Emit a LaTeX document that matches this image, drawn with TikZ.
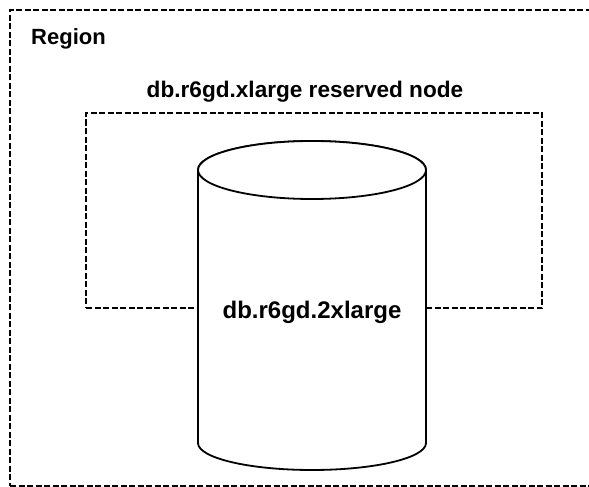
\documentclass[tikz,border=0pt]{standalone}
\usepackage{fontspec}
\setmainfont{Liberation Sans}
\usetikzlibrary{shapes.geometric, positioning}

\begin{document}
\begin{tikzpicture}[x=1pt, y=-1pt, boxstyle/.style = {rectangle, draw, dash pattern=on 6pt off 2.5pt, line width=1.4pt, inner sep=0pt}, dbstyle/.style = {draw, fill=white, line width=1.8pt}, labelstyle/.style={font=\fontsize{22.6}{27}\selectfont\bfseries, inner sep=0pt}]
  \useasboundingbox (0,0) rectangle (589,487);

  % Region
  \node[boxstyle, minimum width=584pt, minimum height=476pt] (region) at (302,248) {};
  \node[labelstyle, font=\fontsize{22}{26}\selectfont\bfseries, anchor=base west] (regionlabel) at (31,45) {Region};

  % reserved node
  \node[boxstyle, minimum width=456pt, minimum height=195pt] (reserved) at (314,210.5) {};
  \node[labelstyle, above=10pt of reserved.north, xshift=-9pt] (reservedlabel) {db.r6gd.xlarge reserved node};

  % db instance
  \coordinate (dbtop) at (312,170);
  \coordinate (dbbottom) at (312,443);
  \filldraw[dbstyle] ([xshift=-114pt]dbtop) -- ([xshift=-114pt]dbbottom) arc[start angle=180, end angle=0, x radius=114, y radius=27] -- ([xshift=114pt]dbtop) arc[start angle=0, end angle=-180, x radius=114, y radius=29] -- cycle;
  \draw[dbstyle] (dbtop) ellipse[x radius=114, y radius=29];
  \node[labelstyle, font=\fontsize{24}{28}\selectfont\bfseries] (dblabel) at (312,312) {db.r6gd.2xlarge};

\end{tikzpicture}
\end{document}
